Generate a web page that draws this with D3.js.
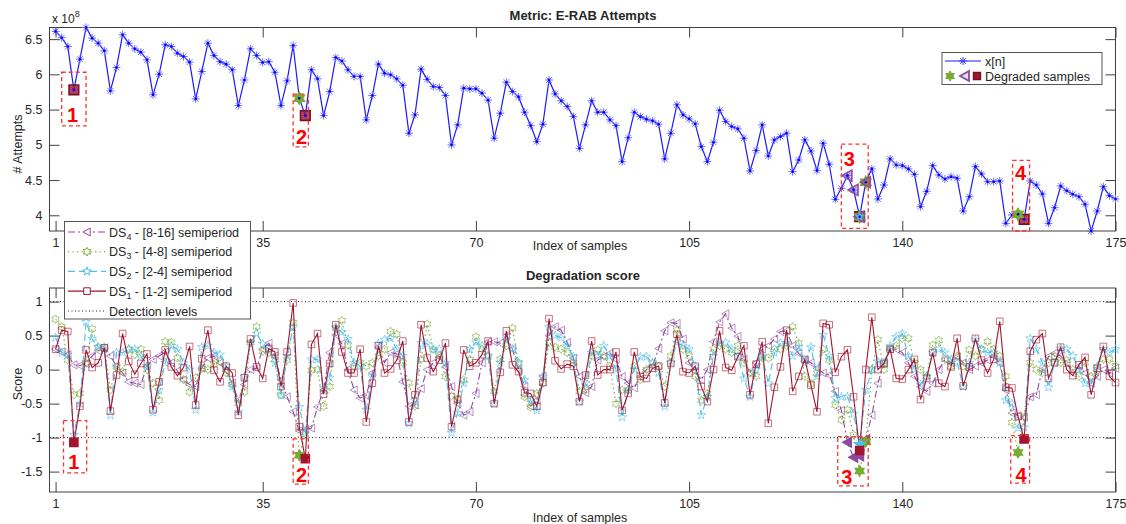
<!DOCTYPE html>
<html>
<head>
<meta charset="utf-8">
<title>E-RAB Attempts - degradation score</title>
<script src="https://cdn.jsdelivr.net/npm/d3@7"></script>
<style>
  body { margin: 0; background: #fff; }
  svg text { font-family: "Liberation Sans", Arial, sans-serif; fill: #262626; }
</style>
</head>
<body>
<div id="chart"></div>
<script>
// ---- data ----
const sampleIndex = d3.range(1, 176);
const xTicks = [1, 35, 70, 105, 140, 175];
const attemptTicks = [4, 4.5, 5, 5.5, 6, 6.5];
const scoreTicks = [-1.5, -1, -0.5, 0, 0.5, 1];
const detectionLevels = [-1, 1];

// E-RAB attempts, in units of 1e8
const attempts = [
  6.61, 6.52, 6.395, 5.78, 6.216, 6.665, 6.514, 6.443, 6.334, 5.766,
  6.097, 6.561, 6.443, 6.362, 6.315, 6.206, 5.709, 6.003, 6.419, 6.395,
  6.30, 6.253, 6.173, 5.652, 6.04, 6.443, 6.267, 6.18, 6.145, 6.064,
  5.557, 5.92, 6.362, 6.267, 6.168, 6.18, 6.03, 5.557, 5.908, 6.41,
  5.662, 5.415, 6.064, 5.936, 5.415, 5.756, 6.239, 6.19, 6.064, 5.97,
  5.97, 5.354, 5.70, 6.145, 6.017, 5.993, 5.936, 5.845, 5.165, 5.425,
  6.074, 5.93, 5.827, 5.813, 5.70, 4.999, 5.283, 5.804, 5.794, 5.794,
  5.733, 5.634, 5.094, 5.449, 5.889, 5.756, 5.68, 5.463, 5.273, 5.045,
  5.293, 5.92, 5.723, 5.624, 5.543, 5.40, 4.95, 5.283, 5.624, 5.463,
  5.463, 5.354, 5.273, 4.761, 5.10, 5.463, 5.40, 5.364, 5.34, 5.293,
  4.80, 5.165, 5.567, 5.425, 5.368, 5.297, 4.975, 4.761, 5.037, 5.491,
  5.33, 5.259, 5.226, 5.094, 4.629, 4.92, 5.283, 4.842, 5.07, 5.117,
  5.165, 4.619, 4.785, 5.07, 4.913, 4.634, 5.023, 4.724, 4.227, 4.383,
  4.563, 4.36, 3.98, 4.469, 4.658, 4.232, 4.43, 4.80, 4.714, 4.705,
  4.658, 4.582, 4.122, 4.34, 4.705, 4.572, 4.516, 4.548, 4.526, 4.061,
  4.264, 4.69, 4.587, 4.477, 4.477, 4.487, 3.886, 4.004, 4.014, 3.943,
  4.487, 4.43, 4.302, 3.886, 4.108, 4.416, 4.349, 4.298, 4.264, 4.156,
  3.777, 4.061, 4.406, 4.278, 4.232
];

// degradation scores
const ds1 = [
  0.3, 0.58, 0.56, -1.07, -0.54, 0.29, 0.03, 0.1, 0.32, -0.61,
  -0.08, 0.53, 0.12, -0.07, 0.09, 0.23, -0.59, -0.18, 0.29, 0.04,
  -0.09, 0.03, 0.34, -0.52, 0.16, 0.58, -0.01, -0.18, 0.05, -0.05,
  -0.67, -0.12, 0.45, 0.04, -0.13, 0.31, 0.26, -0.25, 0.26, 0.98,
  -0.84, -1.31, 0.37, 0.53, -0.36, 0.09, 0.66, 0.26, -0.05, -0.05,
  0.3, -0.77, -0.2, 0.35, -0.05, 0.01, 0.14, 0.42, -0.77, -0.37,
  0.66, 0.17, -0.03, 0.14, 0.39, -0.84, -0.44, 0.29, 0.05, 0.1,
  0.22, 0.42, -0.5, -0.04, 0.57, 0.07, -0.03, -0.34, -0.35, -0.54,
  -0.19, 0.75, 0.13, 0.01, 0.08, 0.05, -0.47, -0.08, 0.42, -0.08,
  0, 0, 0.26, -0.6, -0.35, 0.26, -0.1, -0.13, 0.02, 0.05,
  -0.49, 0.09, 0.52, -0.03, -0.05, 0.05, -0.25, -0.47, 0.0, 0.57,
  0.03, -0.01, 0.19, 0.35, -0.37, 0.08, 0.41, -0.79, -0.26, 0.04,
  0.58, -0.32, -0.1, 0.15, -0.23, -0.62, 0.68, 0.66, -0.04, 0.19,
  0.29, -0.4, -1.19, 0.0, 0.77, 0, 0.09, 0.3, -0.13, -0.14,
  0, 0.15, -0.44, -0.13, 0.25, -0.2, -0.25, 0.04, 0.46, -0.24,
  0.04, 0.46, 0.14, -0.05, 0.15, 0.71, -0.26, -0.27, -0.69, -1.02,
  0.27, 0.44, 0.53, -0.13, 0.1, 0.33, 0, -0.09, 0.07, 0.18,
  -0.37, 0.02, 0.34, -0.1, -0.19
];
const ds2 = [
  0.47, 0.25, 0.22, -0.96, -0.5, 0.7, 0.45, 0.33, 0.3, -0.67,
  0.25, 0.25, 0.3, 0.3, 0.2, 0.05, -0.63, -0.3, 0.1, 0.35,
  0.3, 0.1, 0.0, -0.59, 0.33, 0.35, 0.25, 0.22, 0.05, -0.25,
  -0.62, -0.1, 0.39, 0.53, 0.38, 0.3, 0.1, -0.38, 0.2, 0.62,
  -0.55, -0.94, 0.15, 0.15, -0.27, -0.12, 0.62, 0.55, 0.45, 0.1,
  0.05, -0.59, -0.1, 0.38, 0.44, 0.46, 0.3, 0.2, -0.79, -0.45,
  0.39, 0.38, 0.29, 0.3, 0.1, -0.93, -0.64, -0.2, 0.3, 0.4,
  0.35, 0.2, -0.5, 0.1, 0.45, 0.3, 0.1, -0.15, -0.45, -0.6,
  -0.1, 0.63, 0.5, 0.47, 0.35, 0.19, -0.47, -0.2, 0.25, 0.2,
  0.35, 0.2, 0.0, -0.7, -0.3, 0.0, 0.19, 0.19, 0.1, -0.05,
  -0.54, 0.1, 0.4, 0.35, 0.3, 0.05, -0.67, -0.4, 0.2, 0.39,
  0.4, 0.3, 0.2, -0.13, -0.4, 0.0, 0.2, -0.2, 0.25, 0.39,
  0.39, 0.2, 0.33, 0.1, 0.33, -0.1, 0.51, 0.2, -0.42, -0.4,
  -0.4, -0.65, -1.1, -0.3, 0.0, 0.12, 0.1, 0.35, 0.48, 0.53,
  0.2, 0.0, -0.22, -0.1, 0.25, 0.3, 0.25, 0.15, 0.1, -0.25,
  0.1, 0.44, 0.3, 0.25, 0.25, 0.1, -0.45, -0.5, -0.86, -0.85,
  0.46, 0.3, 0.1, -0.26, 0.1, 0.31, 0.3, 0.2, 0.0, -0.2,
  -0.2, 0.05, 0.3, 0.25, 0.3
];
const ds3 = [
  0.74, 0.63, 0.14, -0.37, -0.35, 0.1, 0.6, 0.33, 0.33, -0.3,
  0.04, -0.03, 0.3, 0.22, 0.3, 0.0, -0.2, -0.45, 0.41, 0.4,
  0.17, -0.15, -0.33, -0.12, 0.02, 0.0, 0.08, 0.12, -0.05, -0.22,
  -0.5, -0.33, 0.4, 0.63, 0.27, 0.25, 0.15, -0.37, 0.14, 0.69,
  -1.26, -0.95, -0.01, 0.0, -0.54, -0.25, 0.61, 0.72, 0.36, 0.05,
  0.1, 0.05, 0.1, 0.2, 0.3, 0.56, 0.52, 0.1, -0.2, -0.54,
  0.15, 0.67, 0.3, 0.2, -0.1, -0.39, -0.44, -0.15, 0.15, 0.48,
  0.3, 0.2, -0.32, 0.15, 0.35, 0.61, 0.1, -0.4, -0.55, -0.35,
  -0.2, 0.4, 0.33, 0.3, 0.25, 0.1, -0.32, -0.3, 0.2, 0.29,
  0.2, 0.05, -0.5, -0.3, -0.3, 0.05, -0.15, 0.0, 0.1, 0.05,
  -0.25, 0.2, 0.58, 0.3, 0.2, -0.1, -0.45, -0.35, 0.3, 0.35,
  0.3, 0.25, 0.35, 0.1, -0.05, -0.1, 0.17, 0.17, 0.3, 0.3,
  0.35, 0.63, 0.39, -0.1, -0.21, -0.05, 0.3, 0.14, -0.52, -0.74,
  -0.59, -0.96, -1.49, -1.06, 0.0, 0.44, 0.0, 0.31, 0.35, 0.46,
  0.46, 0.1, 0.0, -0.1, 0.36, 0.43, 0.15, 0.05, 0.2, 0.05,
  0.29, 0.2, 0.3, 0.41, 0.3, 0.2, -0.1, -0.78, -1.22, -0.7,
  0.1, 0.0, -0.05, 0.1, 0.2, 0.1, 0.14, 0.0, -0.1, 0.1,
  -0.1, 0.0, 0.15, 0.15, 0.05
];
const ds4 = [
  0.3, 0.26, 0.22, 0.07, 0.06, 0.09, 0.2, 0.28, 0.32, 0.2,
  0.05, -0.05, -0.18, -0.2, -0.22, 0.05, 0.15, 0.2, 0.26, 0.1,
  -0.02, -0.15, -0.22, -0.25, 0.02, 0.17, 0.2, 0.1, -0.02, -0.2,
  -0.45, -0.22, 0.0, 0.02, 0.3, 0.39, 0.2, -0.15, -0.4, -0.62,
  -0.9, -0.88, -0.86, -0.55, -0.3, 0.25, 0.51, 0.38, 0.0, -0.3,
  -0.42, -0.38, -0.05, 0.33, 0.1, 0.25, 0.23, -0.18, -0.54, -0.52,
  -0.28, 0.0, 0.1, 0.19, 0.04, -0.25, -0.5, -0.67, -0.62, -0.35,
  0.1, 0.41, 0.41, 0.39, 0.5, 0.3, 0.0, -0.25, -0.54, -0.45,
  -0.1, 0.5, 0.63, 0.58, 0.4, 0.17, -0.1, -0.34, -0.25, 0.14,
  0.19, 0.24, 0.15, -0.1, -0.2, -0.27, -0.1, 0.0, 0.05, 0.31,
  0.57, 0.69, 0.68, 0.45, 0.1, -0.03, -0.15, 0.0, 0.41, 0.7,
  0.82, 0.61, 0.49, 0.15, -0.05, 0.1, 0.3, 0.35, 0.45, 0.56,
  0.57, 0.35, 0.24, 0.14, 0.1, 0.02, -0.05, -0.08, -0.32, -0.6,
  -1.07, -1.29, -1.27, -1.03, -0.67, -0.2, 0.1, 0.3, 0.3, 0.25,
  0.1, -0.1, -0.25, -0.32, -0.2, 0.0, 0.15, 0.1, 0.19, 0.1,
  0.0, 0.05, 0.1, 0.14, 0.2, 0.1, -0.3, -0.64, -0.68, -0.7,
  -0.4, -0.37, 0.0, 0.19, 0.24, 0.2, 0.1, -0.05, 0.05, -0.05,
  -0.2, -0.1, 0.0, -0.05, 0.02
];

const seriesLabels = [
  { sub: "4", rest: " - [8-16] semiperiod" },
  { sub: "3", rest: " - [4-8] semiperiod" },
  { sub: "2", rest: " - [2-4] semiperiod" },
  { sub: "1", rest: " - [1-2] semiperiod" }
];

// annotation boxes [index from, index to, value from, value to]
const topBoxes = [[2.0, 6.0, 5.27, 6.03], [40.0, 42.5, 4.97, 5.72], [130.0, 134.4, 3.815, 5.01], [158.1, 160.9, 3.777, 4.78]];
const topBoxLabels = [[3.8, 5.42], [41.4, 5.12], [131.3, 4.8], [159.4, 4.6]];
const botBoxes = [[2.3, 6.1, -0.75, -1.52], [40.0, 42.5, -1.02, -1.685], [129.4, 134.4, -0.985, -1.71], [157.8, 160.9, -0.97, -1.67]];
const botBoxLabels = [[4.0, -1.35], [41.4, -1.55], [130.9, -1.58], [159.5, -1.55]];

// ---- marker shapes ----
function asterisk(r) {
  const d = r * 0.72;
  return `M${-r},0H${r}M0,${-r}V${r}M${-d},${-d}L${d},${d}M${-d},${d}L${d},${-d}`;
}
function square(r) { return `M${-r},${-r}H${r}V${r}H${-r}Z`; }
function triLeft(r) { return `M${-r},0L${r * 0.8},${-r}L${r * 0.8},${r}Z`; }
function starPath(n, r, inner) {
  const pts = [];
  for (let k = 0; k < 2 * n; k++) {
    const a = Math.PI * k / n;
    const rr = k % 2 ? r * inner : r;
    pts.push([rr * Math.sin(a), -rr * Math.cos(a)]);
  }
  return "M" + pts.map(p => p[0].toFixed(2) + "," + p[1].toFixed(2)).join("L") + "Z";
}
function hexagram(r) { return starPath(6, r, 0.577); }
function pentagram(r) { return starPath(5, r, 0.4); }

const styles = [
  { data: ds4, color: "#8d4a9e", dash: "7,3,2,3", shape: triLeft, size: 4 },
  { data: ds3, color: "#77ac30", dash: "1.5,3", shape: hexagram, size: 4.3 },
  { data: ds2, color: "#4dbeee", dash: "7,4", shape: pentagram, size: 4.6 },
  { data: ds1, color: "#a2142f", dash: null, shape: square, size: 3.3 }
];

// ---- chart ----
const width = 1126, height = 524;
const svg = d3.select('#chart').append('svg')
  .attr('width', width).attr('height', height);

const x = d3.scaleLinear().domain([0, 175]).range([49.5, 1115.5]);
const yTop = d3.scaleLinear().domain(d3.extent(attempts)).range([231, 27.5]);
const yBot = d3.scaleLinear().domain([-1.8, 1.2]).range([492, 288]);

function frame(y, yTicks) {
  const [x0, x1] = x.range();
  const [yb, yt] = y.range();
  const g = svg.append('g').attr('color', '#404040');
  g.append('g').attr('transform', `translate(0,${yb})`)
    .call(d3.axisBottom(x).tickValues(xTicks).tickSizeInner(-10).tickSizeOuter(0).tickPadding(7));
  g.append('g').attr('transform', `translate(0,${yt})`)
    .call(d3.axisTop(x).tickValues(xTicks).tickSizeInner(-10).tickSizeOuter(0).tickFormat(''));
  g.append('g').attr('transform', `translate(${x0},0)`)
    .call(d3.axisLeft(y).tickValues(yTicks).tickSizeInner(-10).tickSizeOuter(0).tickPadding(7).tickFormat(d => String(d)));
  g.append('g').attr('transform', `translate(${x1},0)`)
    .call(d3.axisRight(y).tickValues(yTicks).tickSizeInner(-10).tickSizeOuter(0).tickFormat(''));
  g.selectAll('.domain').remove();
  g.selectAll('text').attr('font-size', 12.5).attr('font-family', '"Liberation Sans", Arial, sans-serif').attr('fill', '#262626');
  g.append('rect').attr('x', x0).attr('y', yt).attr('width', x1 - x0).attr('height', yb - yt)
    .attr('fill', 'none').attr('stroke', '#404040');
}

function text(tx, ty, s, opts) {
  const t = svg.append('text').attr('x', tx).attr('y', ty).text(s)
    .attr('font-size', (opts && opts.size) || 12.5)
    .attr('text-anchor', (opts && opts.anchor) || 'middle');
  if (opts && opts.bold) t.attr('font-weight', 'bold');
  if (opts && opts.rotate) t.attr('transform', `rotate(-90,${tx},${ty})`);
  return t;
}

function annotate(boxes, labels, y) {
  boxes.forEach(b => {
    svg.append('rect')
      .attr('x', x(b[0])).attr('y', y(Math.max(b[2], b[3])))
      .attr('width', x(b[1]) - x(b[0])).attr('height', Math.abs(y(b[2]) - y(b[3])))
      .attr('fill', 'none').attr('stroke', '#ff3333').attr('stroke-width', 1.3)
      .attr('stroke-dasharray', '4,3');
  });
  labels.forEach((p, k) => {
    svg.append('text').attr('x', x(p[0])).attr('y', y(p[1]))
      .attr('dy', '0.36em').attr('text-anchor', 'middle')
      .attr('font-size', 20).attr('font-weight', 'bold')
      .style('fill', '#ff0000').text(k + 1);
  });
}

function degraded(s) {
  return s.data.map((v, i) => ({ v, i })).filter(p => p.v < detectionLevels[0]);
}

// ---- top panel ----
frame(yTop, attemptTicks);
text(583, 20, 'Metric: E-RAB Attempts', { bold: true, size: 13 });
text(580, 250, 'Index of samples');
text(22, 144, '# Attempts', { rotate: true });
svg.append('text').attr('x', 52).attr('y', 23).attr('font-size', 12).text('x 10')
  .append('tspan').attr('dy', -6).attr('font-size', 9).text('8');

const topLine = d3.line().x((d, i) => x(sampleIndex[i])).y(d => yTop(d));
svg.append('path').datum(attempts).attr('d', topLine)
  .attr('fill', 'none').attr('stroke', '#1a1aff').attr('stroke-width', 1.2);
svg.append('g').selectAll('path').data(attempts).join('path')
  .attr('transform', (d, i) => `translate(${x(sampleIndex[i])},${yTop(d)})`)
  .attr('d', asterisk(4)).attr('stroke', '#6f6fff').attr('stroke-width', 1).attr('fill', 'none');

// degraded samples on the metric (score below the detection level)
[styles[3], styles[1], styles[0], styles[2]].forEach(s => {
  const isTri = s.shape === triLeft, isSq = s.shape === square, isPent = s.shape === pentagram;
  svg.append('g').selectAll('path').data(degraded(s)).join('path')
    .attr('transform', p => `translate(${x(sampleIndex[p.i])},${yTop(attempts[p.i])})`)
    .attr('d', s.shape(isPent ? 3 : s.size + 1.5))
    .attr('fill', isTri ? 'rgba(141,74,158,0.3)' : s.color)
    .attr('fill-opacity', isSq ? 0.75 : 1)
    .attr('stroke', isSq ? '#7a0f24' : s.color).attr('stroke-width', 1.6);
});
svg.append('g').selectAll('circle').data(attempts).join('circle')
  .attr('cx', (d, i) => x(sampleIndex[i])).attr('cy', d => yTop(d)).attr('r', 1.3).attr('fill', '#0000ff');

annotate(topBoxes, topBoxLabels, yTop);

// top legend
const lg1 = svg.append('g');
lg1.append('rect').attr('x', 942).attr('y', 52.5).attr('width', 160).attr('height', 32)
  .attr('fill', '#fff').attr('stroke', '#555');
lg1.append('line').attr('x1', 945).attr('x2', 981).attr('y1', 61).attr('y2', 61).attr('stroke', '#1a1aff').attr('stroke-width', 1.2);
lg1.append('path').attr('transform', 'translate(963,61)').attr('d', asterisk(4)).attr('stroke', '#3a3aff').attr('fill', 'none');
lg1.append('path').attr('transform', 'translate(950,76)').attr('d', hexagram(5)).attr('fill', '#77ac30').attr('stroke', '#77ac30');
lg1.append('path').attr('transform', 'translate(965,76)').attr('d', triLeft(5)).attr('fill', 'rgba(141,74,158,0.2)').attr('stroke', '#8d4a9e').attr('stroke-width', 1.8);
lg1.append('path').attr('transform', 'translate(977,76)').attr('d', square(3.5)).attr('fill', '#a2142f').attr('stroke', '#7a0f24').attr('stroke-width', 1.4);
lg1.append('text').attr('x', 985).attr('y', 65.5).attr('font-size', 12.5).text('x[n]');
lg1.append('text').attr('x', 985).attr('y', 80.5).attr('font-size', 12.5).text('Degraded samples');

// ---- bottom panel ----
frame(yBot, scoreTicks);
text(583, 280, 'Degradation score', { bold: true, size: 13 });
text(580, 522, 'Index of samples');
text(22, 384, 'Score', { rotate: true });

svg.append('g').selectAll('line').data(detectionLevels).join('line')
  .attr('x1', x.range()[0]).attr('x2', x.range()[1])
  .attr('y1', d => yBot(d)).attr('y2', d => yBot(d))
  .attr('stroke', '#222').attr('stroke-dasharray', '1,2.5');

const botLine = d3.line().x((d, i) => x(sampleIndex[i])).y(d => yBot(d));
styles.forEach(s => {
  svg.append('path').datum(s.data).attr('d', botLine)
    .attr('fill', 'none').attr('stroke', s.color).attr('stroke-width', 1.1)
    .attr('stroke-dasharray', s.dash);
  svg.append('g').selectAll('path').data(s.data).join('path')
    .attr('transform', (d, i) => `translate(${x(sampleIndex[i])},${yBot(d)})`)
    .attr('d', s.shape(s.size)).attr('fill', 'none')
    .attr('stroke', s.color).attr('stroke-opacity', 0.6).attr('stroke-width', 1);
});
styles.forEach(s => {
  svg.append('g').selectAll('path').data(degraded(s)).join('path')
    .attr('transform', p => `translate(${x(sampleIndex[p.i])},${yBot(p.v)})`)
    .attr('d', s.shape(s.size + 0.8)).attr('fill', s.color)
    .attr('stroke', s.color).attr('stroke-width', 1.4);
});

annotate(botBoxes, botBoxLabels, yBot);

// bottom legend
const lg2 = svg.append('g');
lg2.append('rect').attr('x', 64.5).attr('y', 221.5).attr('width', 186).attr('height', 97.5)
  .attr('fill', '#fff').attr('stroke', '#555');
styles.forEach((s, k) => {
  const ly = 232 + k * 19.7;
  lg2.append('line').attr('x1', 68).attr('x2', 106).attr('y1', ly).attr('y2', ly)
    .attr('stroke', s.color).attr('stroke-width', 1.1).attr('stroke-dasharray', s.dash);
  lg2.append('path').attr('transform', `translate(87,${ly})`).attr('d', s.shape(s.size))
    .attr('fill', '#fff').attr('stroke', s.color);
  const t = lg2.append('text').attr('x', 109).attr('y', ly + 4.5).attr('font-size', 12.5).text('DS');
  t.append('tspan').attr('font-size', 9).attr('dy', 3).text(seriesLabels[k].sub);
  t.append('tspan').attr('dy', -3).text(seriesLabels[k].rest);
});
lg2.append('line').attr('x1', 68).attr('x2', 106).attr('y1', 311).attr('y2', 311)
  .attr('stroke', '#222').attr('stroke-dasharray', '1,2.5');
lg2.append('text').attr('x', 109).attr('y', 315.5).attr('font-size', 12.5).text('Detection levels');
</script>
</body>
</html>
